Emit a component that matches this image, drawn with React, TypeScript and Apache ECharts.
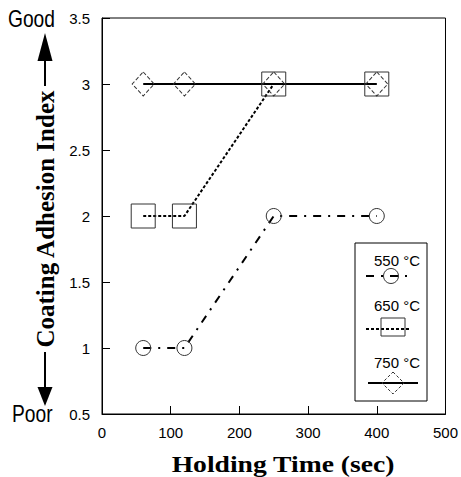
import React, { useEffect, useRef } from "react";
import * as echarts from "echarts";

const holdingTime = [60, 120, 250, 400];
const idx550 = [1, 1, 2, 2];
const idx650 = [2, 2, 3, 3];
const idx750 = [3, 3, 3, 3];
const seriesNames = ["550 °C", "650 °C", "750 °C"];
const xTitle = "Holding Time (sec)";
const yTitle = "Coating Adhesion Index";

const SANS = "'Liberation Sans', Arial, sans-serif";
const SERIF = "'Liberation Serif', 'Times New Roman', serif";

export default function App() {
  const ref = useRef<HTMLDivElement>(null);
  useEffect(() => {
    if (!ref.current) return;
    const chart = echarts.init(ref.current, null, { renderer: "svg" });
    const pts = (ys: number[]) => holdingTime.map((x, i) => [x, ys[i]]);
    const sym = { color: "rgba(0,0,0,0)", borderColor: "#333", borderWidth: 1 };
    chart.setOption({
      animation: false,
      backgroundColor: "#fff",
      grid: { left: 102, right: 14, top: 18, bottom: 63, show: true, borderColor: "#000", borderWidth: 1 },
      xAxis: {
        type: "value", min: 0, max: 500, interval: 100,
        axisLine: { lineStyle: { color: "#000", width: 1 } },
        axisTick: { inside: true, length: 8, lineStyle: { color: "#000" } },
        axisLabel: { fontFamily: SANS, fontSize: 15, color: "#000", margin: 11 },
        splitLine: { show: false },
      },
      yAxis: {
        type: "value", min: 0.5, max: 3.5, interval: 0.5,
        axisLine: { show: true, lineStyle: { color: "#000", width: 1 } },
        axisTick: { show: true, inside: true, length: 8, lineStyle: { color: "#000" } },
        axisLabel: { fontFamily: SANS, fontSize: 15, color: "#000", margin: 12 },
        splitLine: { show: false },
      },
      series: [
        {
          name: seriesNames[0], type: "line", data: pts(idx550),
          symbol: "circle", symbolSize: 15, itemStyle: sym,
          lineStyle: { color: "#000", width: 2, type: [8, 7, 2, 7] },
        },
        {
          name: seriesNames[1], type: "line", data: pts(idx650),
          symbol: "rect", symbolSize: 24, itemStyle: sym,
          lineStyle: { color: "#000", width: 2, type: [3, 2] },
        },
        {
          name: seriesNames[2], type: "line", data: pts(idx750),
          symbol: "diamond", symbolSize: [22, 24], itemStyle: { ...sym, borderType: "dashed" },
          lineStyle: { color: "#000", width: 2, type: "solid" },
        },
      ],
      graphic: [
        { type: "text", x: 8, y: 19, scaleX: 0.8, style: { text: "Good", fontFamily: SANS, fontSize: 24, fill: "#000", textVerticalAlign: "middle" } },
        { type: "text", x: 12, y: 414, scaleX: 0.8, style: { text: "Poor", fontFamily: SANS, fontSize: 24, fill: "#000", textVerticalAlign: "middle" } },
        { type: "polygon", shape: { points: [[45, 33], [37.5, 61], [52.5, 61]] }, style: { fill: "#000" } },
        { type: "line", shape: { x1: 45, y1: 60, x2: 45, y2: 86 }, style: { stroke: "#000", lineWidth: 2 } },
        { type: "line", shape: { x1: 45, y1: 352, x2: 45, y2: 390 }, style: { stroke: "#000", lineWidth: 2 } },
        { type: "polygon", shape: { points: [[45, 406], [37.5, 387], [52.5, 387]] }, style: { fill: "#000" } },
        {
          type: "text", x: 45, y: 219, rotation: Math.PI / 2,
          style: { text: yTitle, fontFamily: SERIF, fontWeight: "bold", fontSize: 25, fill: "#000", textAlign: "center", textVerticalAlign: "middle" },
        },
        {
          type: "text", x: 283, y: 464, scaleX: 1.2,
          style: { text: xTitle, fontFamily: SERIF, fontWeight: "bold", fontSize: 23, fill: "#000", textAlign: "center", textVerticalAlign: "middle" },
        },
        { type: "rect", shape: { x: 355, y: 243, width: 72, height: 158 }, style: { fill: "#fff", stroke: "#000", lineWidth: 1 } },
        { type: "text", x: 397, y: 260, style: { text: seriesNames[0], fontFamily: SANS, fontSize: 15, fill: "#000", textAlign: "center", textVerticalAlign: "middle" } },
        { type: "line", shape: { x1: 366, y1: 276, x2: 411, y2: 276 }, style: { stroke: "#000", lineWidth: 2, lineDash: [8, 7, 2, 7] } },
        { type: "circle", shape: { cx: 391, cy: 276, r: 7.5 }, style: { fill: "none", stroke: "#333", lineWidth: 1 } },
        { type: "text", x: 397, y: 305, style: { text: seriesNames[1], fontFamily: SANS, fontSize: 15, fill: "#000", textAlign: "center", textVerticalAlign: "middle" } },
        { type: "line", shape: { x1: 366, y1: 329, x2: 411, y2: 329 }, style: { stroke: "#000", lineWidth: 2, lineDash: [3, 2] } },
        { type: "rect", shape: { x: 381, y: 318, width: 24, height: 18 }, style: { fill: "none", stroke: "#333", lineWidth: 1 } },
        { type: "text", x: 397, y: 362, style: { text: seriesNames[2], fontFamily: SANS, fontSize: 15, fill: "#000", textAlign: "center", textVerticalAlign: "middle" } },
        { type: "line", shape: { x1: 368, y1: 383, x2: 418, y2: 383 }, style: { stroke: "#000", lineWidth: 2 } },
        { type: "polygon", shape: { points: [[393, 372], [404, 383], [393, 394], [382, 383]] }, style: { fill: "none", stroke: "#333", lineWidth: 1, lineDash: [3, 2] } },
      ],
    });
    return () => chart.dispose();
  }, []);
  return <div ref={ref} style={{ width: 461, height: 477, position: "absolute", left: 0, top: 0 }} />;
}
